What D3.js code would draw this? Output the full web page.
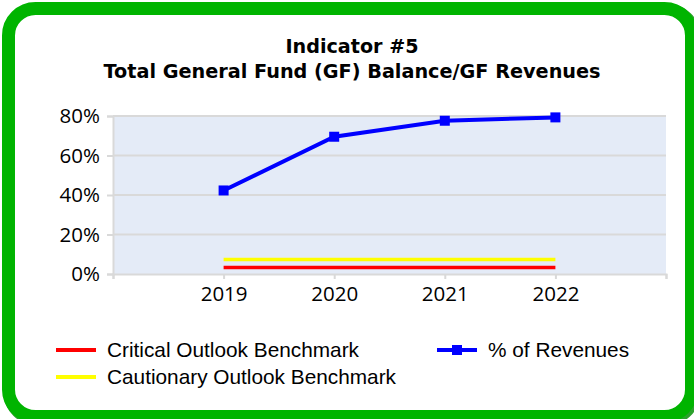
<!DOCTYPE html>
<html><head><meta charset="utf-8">
<script src="https://cdn.jsdelivr.net/npm/d3@7"></script>
<style>html,body{margin:0;padding:0;background:#fff;overflow:hidden}</style>
</head><body>
<svg id="c" width="694" height="419"></svg>
<script>
const titleLines = ["Indicator #5", "Total General Fund (GF) Balance/GF Revenues"];
const years = ["2019", "2020", "2021", "2022"];
const revenues = [42.3, 69.5, 77.6, 79.3];
const critical = [3.3, 3.3, 3.3, 3.3];
const cautionary = [7.4, 7.4, 7.4, 7.4];
const yTicks = [0, 20, 40, 60, 80];
const legendItems = [
  {name: "Critical Outlook Benchmark", color: "#ff0000", marker: false},
  {name: "Cautionary Outlook Benchmark", color: "#ffff00", marker: false},
  {name: "% of Revenues", color: "#0000ff", marker: true}
];

const svg = d3.select("#c");

// green rounded frame
svg.append("rect").attr("x", 10).attr("y", 10).attr("width", 684).attr("height", 409)
  .attr("rx", 27).attr("fill", "none").attr("stroke", "#2ca02c").attr("stroke-width", 13);
svg.append("rect").attr("x", 8.5).attr("y", 8.5).attr("width", 683).attr("height", 408)
  .attr("rx", 27).attr("fill", "#fff").attr("stroke", "#00b400").attr("stroke-width", 13);

// title
const title = svg.append("g").attr("font-family", "'DejaVu Sans', sans-serif")
  .attr("font-weight", "bold").attr("text-anchor", "middle").attr("fill", "#000");
const tw = [133, 497];
titleLines.forEach((t, i) => {
  title.append("text").attr("x", 352).attr("y", [53, 78][i]).attr("font-size", 20)
    .attr("textLength", tw[i]).attr("lengthAdjust", "spacingAndGlyphs").text(t);
});

const plot = {left: 113, right: 666, top: 116, bottom: 274};
const x = d3.scaleLinear().domain([0, years.length + 1]).range([plot.left, plot.right]);
const y = d3.scaleLinear().domain([0, 80]).range([plot.bottom, plot.top]);

svg.append("rect").attr("x", plot.left).attr("y", plot.top)
  .attr("width", plot.right - plot.left).attr("height", plot.bottom - plot.top).attr("fill", "#e4ebf7");

// gridlines
svg.append("g").selectAll("line").data(yTicks.slice(1)).join("line")
  .attr("x1", plot.left).attr("x2", plot.right)
  .attr("y1", d => y(d)).attr("y2", d => y(d))
  .attr("stroke", "#d9d9d9").attr("stroke-width", 2);

// y axis
const yAxis = svg.append("g").attr("transform", `translate(${plot.left},0)`)
  .call(d3.axisLeft(y).tickValues(yTicks).tickFormat(d => d + "%").tickSize(6).tickPadding(7));
yAxis.select(".domain").attr("stroke", "#d9d9d9").attr("stroke-width", 2);
yAxis.selectAll(".tick line").attr("stroke", "#d9d9d9").attr("stroke-width", 2);
yAxis.selectAll("text").attr("font-family", "'Open Sans', sans-serif").attr("font-size", 20.5).attr("fill", "#000");

// x axis
const xAxis = svg.append("g").attr("transform", `translate(0,${plot.bottom})`)
  .call(d3.axisBottom(x).tickValues(d3.range(0, years.length + 2))
    .tickFormat(i => (i >= 1 && i <= years.length) ? years[i - 1] : "").tickSize(5).tickPadding(7));
xAxis.select(".domain").attr("stroke", "#d9d9d9").attr("stroke-width", 2);
xAxis.selectAll(".tick line").attr("stroke", "#d9d9d9").attr("stroke-width", 2);
xAxis.selectAll("text").attr("font-family", "'Open Sans', sans-serif").attr("font-size", 20.5).attr("fill", "#000");

const line = d3.line().x((d, i) => x(i + 1)).y(d => y(d));
svg.append("path").datum(cautionary).attr("d", line).attr("fill", "none").attr("stroke", "#ffff00").attr("stroke-width", 3.5);
svg.append("path").datum(critical).attr("d", line).attr("fill", "none").attr("stroke", "#ff0000").attr("stroke-width", 3.5);
svg.append("path").datum(revenues).attr("d", line).attr("fill", "none").attr("stroke", "#0000ff").attr("stroke-width", 4);
svg.append("g").selectAll("rect").data(revenues).join("rect")
  .attr("x", (d, i) => x(i + 1) - 5).attr("y", d => y(d) - 5)
  .attr("width", 10).attr("height", 10).attr("fill", "#0000ff");

// legend
const legPos = [[56, 350], [56, 377], [437, 350]];
const leg = svg.append("g").attr("font-family", "'Liberation Sans', Arial, sans-serif").attr("font-size", 20.8);
legendItems.forEach((it, i) => {
  const [lx, ly] = legPos[i];
  const g = leg.append("g").attr("transform", `translate(${lx},${ly})`);
  g.append("line").attr("x1", 0).attr("x2", 40).attr("y1", 0).attr("y2", 0)
    .attr("stroke", it.color).attr("stroke-width", 4);
  if (it.marker) g.append("rect").attr("x", 15).attr("y", -5).attr("width", 10).attr("height", 10).attr("fill", it.color);
  g.append("text").attr("x", 51).attr("y", 0).attr("dy", "0.35em").attr("fill", "#000").text(it.name);
});
</script>
</body></html>
